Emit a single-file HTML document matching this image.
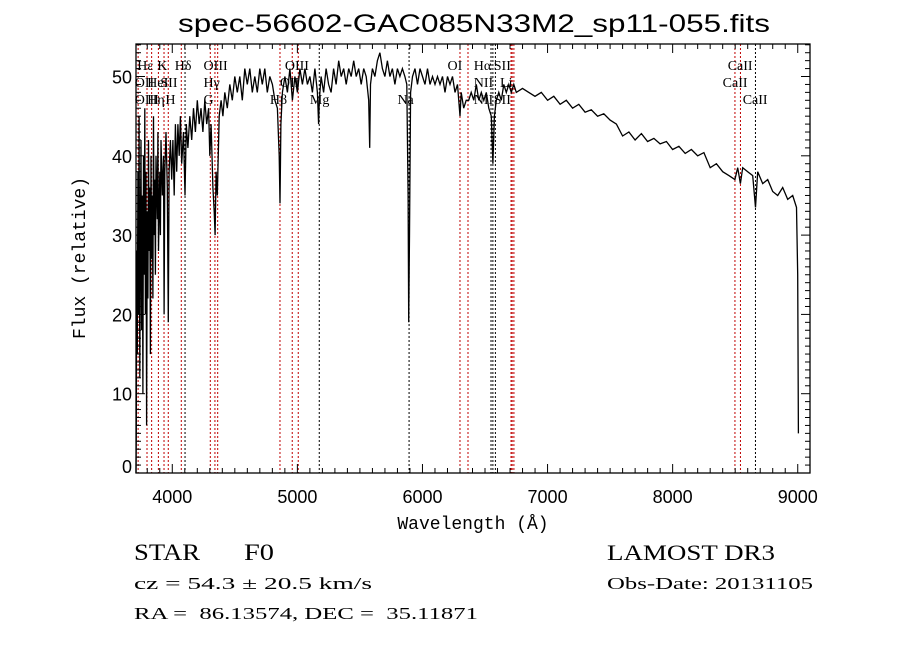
<!DOCTYPE html>
<html><head><meta charset="utf-8"><style>
html,body{margin:0;padding:0;background:#fff;}
svg{display:block;}
text{white-space:pre;}
</style></head><body>
<svg id="chart" width="900" height="649" viewBox="0 0 900 649" xmlns="http://www.w3.org/2000/svg" xml:space="preserve">
<rect x="0" y="0" width="900" height="649" fill="#fff"/>
<text x="178" y="32" font-family="Liberation Sans, sans-serif" font-size="25" textLength="592" lengthAdjust="spacingAndGlyphs">spec-56602-GAC085N33M2_sp11-055.fits</text>
<g id="lines"></g>
<g id="labels"></g>
<polyline id="spec" fill="none" stroke="#000" stroke-width="1.3"/>
<rect x="136" y="44" width="674" height="429" fill="none" stroke="#000" stroke-width="1.3"/>
<g id="ticks"></g>
<text x="473" y="529" text-anchor="middle" font-family="Liberation Mono, monospace" font-size="18">Wavelength (Å)</text>
<text transform="translate(85,258) rotate(-90)" text-anchor="middle" font-family="Liberation Mono, monospace" font-size="18">Flux (relative)</text>
<text x="134" y="560" font-family="Liberation Serif, serif" font-size="23" textLength="66" lengthAdjust="spacingAndGlyphs">STAR</text>
<text x="244" y="560" font-family="Liberation Serif, serif" font-size="23" textLength="30" lengthAdjust="spacingAndGlyphs">F0</text>
<text x="134" y="589" font-family="Liberation Serif, serif" font-size="17" textLength="238" lengthAdjust="spacingAndGlyphs">cz = 54.3 ± 20.5 km/s</text>
<text x="134" y="619" font-family="Liberation Serif, serif" font-size="17" textLength="344" lengthAdjust="spacingAndGlyphs">RA =  86.13574, DEC =  35.11871</text>
<text x="607" y="560" font-family="Liberation Serif, serif" font-size="22" textLength="168" lengthAdjust="spacingAndGlyphs">LAMOST DR3</text>
<text x="607" y="589" font-family="Liberation Serif, serif" font-size="17" textLength="206" lengthAdjust="spacingAndGlyphs">Obs-Date: 20131105</text>
</svg>
<script>
const wave=[3710,3712,3715,3720,3725,3730,3735,3740,3745,3750,3755,3760,3765,3770,3775,3780,3785,3790,3795,3800,3805,3810,3815,3820,3825,3830,3835,3840,3845,3850,3855,3860,3865,3870,3880,3885,3890,3900,3905,3910,3920,3930,3935,3940,3950,3960,3968,3975,3985,3995,4005,4015,4025,4035,4045,4055,4065,4075,4090,4102,4112,4125,4140,4155,4170,4185,4200,4215,4230,4245,4260,4275,4290,4300,4310,4325,4335,4342,4350,4360,4375,4390,4405,4420,4440,4460,4480,4500,4520,4540,4560,4580,4600,4620,4640,4660,4680,4700,4720,4740,4760,4780,4800,4820,4840,4855,4861,4868,4880,4900,4920,4940,4960,4980,5000,5020,5040,5060,5080,5100,5120,5140,5160,5170,5175,5190,5210,5230,5250,5270,5290,5310,5330,5350,5370,5390,5410,5430,5450,5470,5490,5510,5530,5550,5570,5578,5585,5600,5620,5640,5660,5680,5700,5720,5740,5760,5780,5800,5820,5840,5860,5875,5885,5890,5896,5905,5920,5940,5960,5980,6000,6020,6040,6060,6080,6100,6120,6140,6160,6180,6200,6220,6240,6260,6280,6300,6310,6330,6350,6370,6390,6410,6430,6450,6470,6490,6510,6530,6550,6563,6575,6590,6610,6630,6650,6670,6690,6710,6730,6750,6800,6850,6900,6950,7000,7050,7100,7150,7200,7250,7300,7350,7400,7450,7500,7550,7600,7650,7700,7750,7800,7850,7900,7950,8000,8050,8100,8150,8200,8250,8300,8350,8400,8450,8498,8520,8542,8560,8600,8640,8662,8680,8720,8760,8800,8840,8880,8920,8960,8990,9000,9005];
const flux=[0,5,28,15,38,20,45,12,30,42,18,35,10,40,25,46,20,38,6,33,22,42,28,36,15,40,27,35,22,45,30,37,25,40,32,43,28,38,30,42,35,40,20,38,43,36,19,38,42,37,42,35,44,38,44,40,45,39,43,35,44,41,45,42,46,43,47,44,46,43,47,44,46,40,44,36,33,30,38,35,45,47,45,48,46,49,47,50,48,50,47,51,49,51,48,50,48,51,49,51,48,50,49,47,46,40,34,44,48,50,48,51,47,50,48,51,49,51,49,50,48,51,48,44,47,50,48,51,49,48,51,49,52,50,51,49,51,50,52,50,51,49,51,50,47,41,49,51,50,52,53,51,50,52,50,51,49,51,50,51,50,49,35,19,30,48,50,51,49,51,50,49,51,49,50,49,50,49,50,48,50,49,50,48,49,45,48,46,47,47,48,47,49,47,48,47,48,46,45,39,45,47,48,47,49,48,49,48,49,48,48.5,48,47.5,48,47,47.5,46.5,47,46,46.5,45.5,45.8,45,45.3,44.5,44,42.5,43,42,42.8,41.8,42.2,41.5,41.8,40.8,41.2,40.3,40.8,40,40.4,38.5,39,38,37.5,37,38.5,36.5,38.5,38,37.5,33.5,38,36.5,37,35.5,35,36,34.5,35,33.5,25,5];
const lineWave=[3727,3798,3835,3889,3934,3968,4072,4102,4304,4341,4363,4861,4959,5007,5175,5893,6300,6364,6548,6563,6583,6708,6717,6731,8498,8542,8662];
const lineColor=["r","r","r","r","r","r","r","k","r","r","r","r","r","r","k","k","r","r","k","k","k","r","r","r","r","r","k"];
const labelText=["Hε","OII","HeI","SII","OIII","Hη","H","K","Hδ","OIII","Hγ","G","OIII","OII","Hβ","Mg","Na","OI","Hα","SII","NII","Li","NII","SII","CaII","CaII","CaII"];
const labelWave=[3720,3700,3800,3905,3700,3800,3945,3880,4020,4250,4250,4250,4900,4860,4780,5100,5800,6200,6410,6570,6410,6620,6410,6570,8440,8400,8560];
const labelRow=[1,2,2,2,3,3,3,1,1,1,2,3,1,2,3,3,3,1,1,1,2,2,3,3,1,2,3];
const xTicks=[4000,5000,6000,7000,8000,9000];
const yTicks=[0,10,20,30,40,50];
const NS="http://www.w3.org/2000/svg";
const X0=136,X1=810,Y0=473,Y1=44;
const WMIN=3710,WMAX=9098,FMIN=0,FMAX=54.1;
function xs(w){return X0+(w-WMIN)/(WMAX-WMIN)*(X1-X0);}
function ys(f){return Y0-(f-FMIN)/(FMAX-FMIN)*(Y0-Y1);}
function mk(tag,attrs,parent){const e=document.createElementNS(NS,tag);for(const k in attrs)e.setAttribute(k,attrs[k]);parent.appendChild(e);return e;}
const pts=[];
for(let i=0;i<wave.length;i++){pts.push(xs(wave[i]).toFixed(1)+","+Math.min(Y0,ys(flux[i])).toFixed(1));}
document.getElementById('spec').setAttribute('points',pts.join(' '));
const lg=document.getElementById('lines');
lineWave.forEach((w,i)=>{
  const l=mk('line',{x1:xs(w),x2:xs(w),y1:Y1,y2:Y0,stroke:lineColor[i]==='r'?'#c00000':'#000','stroke-width':1,'stroke-dasharray':'2,2'},lg);
  
  
});
const lb=document.getElementById('labels');
labelText.forEach((t,i)=>{
  const e=mk('text',{x:xs(labelWave[i]),y:Y1+9+labelRow[i]*17,'font-family':'Liberation Serif, serif','font-size':14},lb);
  e.textContent=t;
  
  
});
const tg=document.getElementById('ticks');
for(let w=3800;w<=9000;w+=100){
  const major=w%1000===0;const len=major?9:5;
  mk('line',{x1:xs(w),x2:xs(w),y1:Y0,y2:Y0-len,stroke:'#000','stroke-width':1},tg);
  mk('line',{x1:xs(w),x2:xs(w),y1:Y1,y2:Y1+len,stroke:'#000','stroke-width':1},tg);
}
for(let f=1;f<=54;f++){
  const major=f%10===0;const len=major?9:5;
  mk('line',{x1:X0,x2:X0+len,y1:ys(f),y2:ys(f),stroke:'#000','stroke-width':1},tg);
  mk('line',{x1:X1,x2:X1-len,y1:ys(f),y2:ys(f),stroke:'#000','stroke-width':1},tg);
}
xTicks.forEach(w=>{
  const e=mk('text',{x:xs(w),y:Y0+30,'text-anchor':'middle','font-family':'Liberation Sans, sans-serif','font-size':18},tg);
  e.textContent=String(w);
  
  
});
yTicks.forEach(f=>{
  const e=mk('text',{x:X0-4,y:(f===0?ys(f):ys(f)+7),'text-anchor':'end','font-family':'Liberation Sans, sans-serif','font-size':18},tg);
  e.textContent=String(f);
  
  
});
</script>
</body></html>
